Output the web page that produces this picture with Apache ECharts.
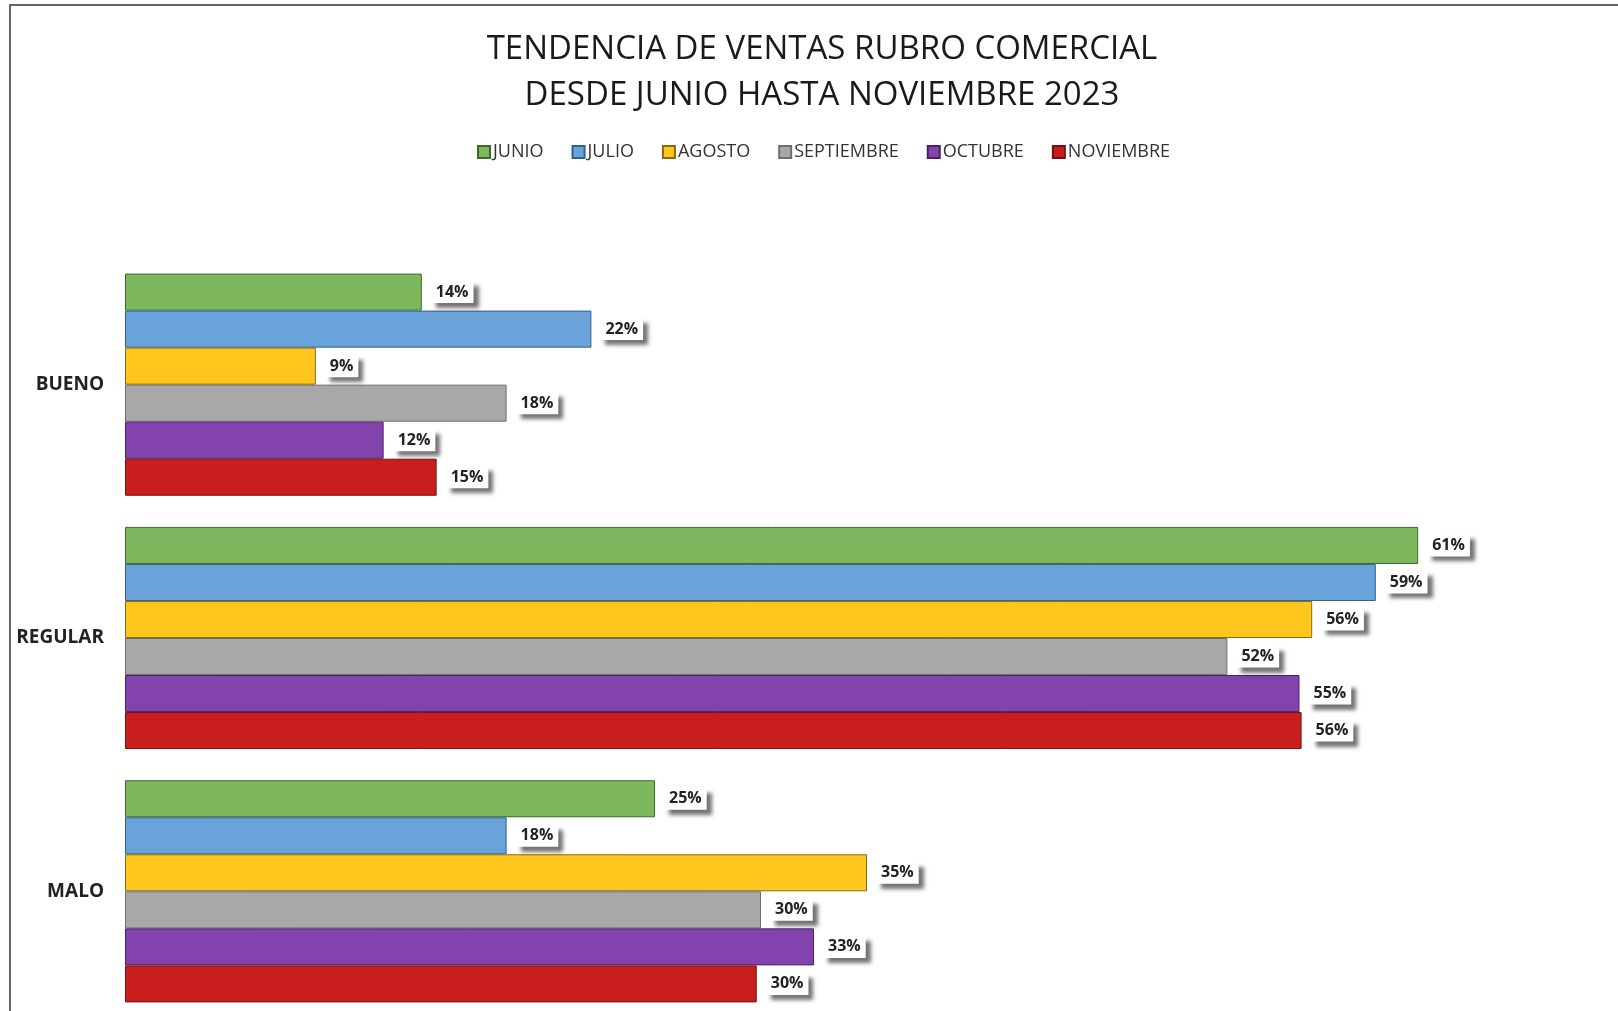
<!DOCTYPE html>
<html>
<head>
<meta charset="utf-8">
<script src="https://cdn.jsdelivr.net/npm/echarts@6/dist/echarts.min.js"></script>
<style>
  html, body { margin: 0; padding: 0; background: #fff; }
  #chart { width: 1618px; height: 1011px; }
</style>
</head>
<body>
<div id="chart"></div>
<script>
const categories = ['BUENO', 'REGULAR', 'MALO']
const months = ['JUNIO', 'JULIO', 'AGOSTO', 'SEPTIEMBRE', 'OCTUBRE', 'NOVIEMBRE']
// bar lengths (labels show them rounded)
const junio = [14, 61, 25]
const julio = [22, 59, 18]
const agosto = [9, 56, 35]
const septiembre = [18, 52, 30]
const octubre = [12.2, 55.4, 32.5]
const noviembre = [14.7, 55.5, 29.8]

const values = [junio, julio, agosto, septiembre, octubre, noviembre]
const colors = ['#7DB75E', '#6AA3DA', '#FFC61E', '#A8A8A8', '#8243AC', '#C81E1E']
const borders = ['#3E6B2A', '#2F5F8C', '#8A6A10', '#6E6E6E', '#4A2168', '#7A1010']

const chart = echarts.init(document.getElementById('chart'))

const series = months.map((name, i) => ({
  name,
  type: 'bar',
  data: values[i],
  barGap: '0%',
  barCategoryGap: '12.3%',
  itemStyle: {
    color: colors[i],
    borderColor: borders[i],
    borderWidth: 1,
  },
  label: {
    show: true,
    position: 'right',
    distance: 9,
    formatter: (p) => Math.round(p.value) + '%',
    color: '#222',
    fontSize: 16,
    fontWeight: 'bold',
    fontFamily: 'Open Sans',
    backgroundColor: '#fff',
    padding: [3, 5],
    shadowColor: 'rgba(0,0,0,0.55)',
    shadowBlur: 4,
    shadowOffsetX: 5,
    shadowOffsetY: 5,
  },
}))

chart.setOption({
  backgroundColor: '#fff',
  animation: false,
  title: {
    text: 'TENDENCIA DE VENTAS RUBRO COMERCIAL\nDESDE JUNIO HASTA NOVIEMBRE 2023',
    left: 817,
    textAlign: 'center',
    top: 22,
    textStyle: {
      fontFamily: 'Open Sans',
      fontWeight: 'normal',
      fontSize: 33,
      lineHeight: 46,
      color: '#1a1a1a',
    },
  },
  legend: {
    data: months,
    left: 472,
    top: 138,
    itemWidth: 12,
    itemHeight: 12,
    itemGap: 28,
    icon: 'rect',
    textStyle: {
      fontFamily: 'Open Sans',
      fontSize: 18,
      color: '#333',
      padding: [0, 0, 0, -2],
    },
  },
  graphic: [
    {
      type: 'rect',
      shape: { x: 10, y: 5, width: 1700, height: 1100 },
      style: { fill: 'none', stroke: '#666', lineWidth: 2 },
      silent: true,
    },
  ],
  grid: {
    left: 125,
    top: 258,
    width: 1484,
    height: 760,
    outerBoundsMode: 'none',
    containLabel: false,
  },
  xAxis: {
    type: 'value',
    min: 0,
    max: 70,
    show: false,
  },
  yAxis: {
    type: 'category',
    data: categories,
    inverse: true,
    axisLine: { show: false },
    axisTick: { show: false },
    axisLabel: {
      margin: 21,
      fontFamily: 'Open Sans',
      fontWeight: 'bold',
      fontSize: 19,
      color: '#222',
    },
  },
  series,
})
</script>
</body>
</html>
